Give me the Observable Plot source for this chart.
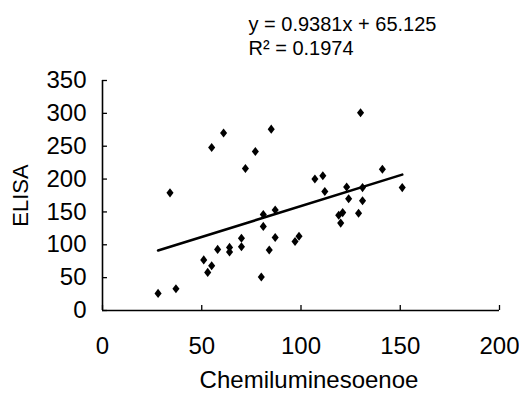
<!DOCTYPE html>
<html>
<head>
<meta charset="utf-8">
<script src="https://cdn.jsdelivr.net/npm/d3@7"></script>
<script src="https://cdn.jsdelivr.net/npm/@observablehq/plot@0.6"></script>
<style>
  html, body { margin: 0; padding: 0; background: #fff; }
  #chart svg { display: block; }
</style>
</head>
<body>
<div id="chart"></div>
<script>
// Data
const chemiX = [28, 37, 34, 51, 53, 55, 55, 61, 58, 64, 64, 70, 70, 72, 77, 80, 81, 81, 84, 85, 87, 87, 97, 99, 130, 107, 111, 112, 123, 124, 121, 119, 120, 131, 131, 129, 141, 151];
const elisaY = [26, 33, 179, 77, 58, 68, 248, 270, 93, 96, 89, 110, 97, 216, 242, 51, 146, 128, 92, 276, 153, 111, 105, 113, 301, 200, 205, 181, 188, 170, 149, 145, 133, 187, 167, 148, 215, 187];
const slope = 0.9381;
const intercept = 65.125;
const rSquared = 0.1974;
const xTicks = [0, 50, 100, 150, 200];
const yTicks = [0, 50, 100, 150, 200, 250, 300, 350];
const xTitle = "Chemiluminesoenoe";
const yTitle = "ELISA";
const equationText = `y = ${slope}x + ${intercept}\nR\u00B2 = ${rSquared}`;

const points = chemiX.map((x, i) => ({x, y: elisaY[i]}));
const [xMin, xMax] = d3.extent(chemiX);
const trend = [xMin, xMax].map(x => ({x, y: slope * x + intercept}));

// inward tick length expressed in data units (~5px each way)
const TICK_Y_UNITS = 7.6;
const TICK_X_UNITS = 2.5;

// custom diamond symbol (slightly taller than wide)
const diamond = {
  draw(ctx, size) {
    const hy = Math.sqrt(size / 1.56);
    const hx = hy * 0.78;
    ctx.moveTo(0, -hy);
    ctx.lineTo(hx, 0);
    ctx.lineTo(0, hy);
    ctx.lineTo(-hx, 0);
    ctx.closePath();
  }
};

const chart = Plot.plot({
  width: 519,
  height: 394,
  marginLeft: 102,
  marginRight: 20,
  marginTop: 80,
  marginBottom: 84,
  style: {fontFamily: "'Liberation Sans', Arial, sans-serif", fontSize: "20px", color: "#000", background: "#fff"},
  x: {domain: [0, 200]},
  y: {domain: [0, 350]},
  marks: [
    Plot.axisX(xTicks, {tickSize: 0, tickPadding: 26, fontSize: 24, label: null}),
    Plot.axisY(yTicks, {tickSize: 0, tickPadding: 16, fontSize: 24, label: null}),
    Plot.axisY({ticks: [], tickSize: 0, label: yTitle, labelAnchor: "center", labelOffset: 90, labelArrow: false, fontSize: 22}),
    Plot.text([xTitle], {frameAnchor: "bottom", lineAnchor: "top", dy: 60, dx: 8, fontSize: 24, fill: "#000"}),
    // inward tick marks
    Plot.ruleX(xTicks, {x: d => d, y1: () => 0, y2: () => TICK_Y_UNITS, stroke: "#000", strokeWidth: 1.3}),
    Plot.ruleY(yTicks, {y: d => d, x1: () => 0, x2: () => TICK_X_UNITS, stroke: "#000", strokeWidth: 1.3}),
    Plot.ruleX([0], {stroke: "#000", strokeWidth: 1.6}),
    Plot.ruleY([0], {stroke: "#000", strokeWidth: 1.6}),
    Plot.line(trend, {x: "x", y: "y", stroke: "#000", strokeWidth: 2.6}),
    Plot.dot(points, {x: "x", y: "y", symbol: diamond, r: 3.2, fill: "#000", stroke: "none"}),
    Plot.text([equationText], {frameAnchor: "top-left", dx: 146, dy: -67, textAnchor: "start", lineAnchor: "top", lineHeight: 1.2, fontSize: 20, fill: "#000"})
  ]
});

document.getElementById("chart").appendChild(chart);
</script>
</body>
</html>
